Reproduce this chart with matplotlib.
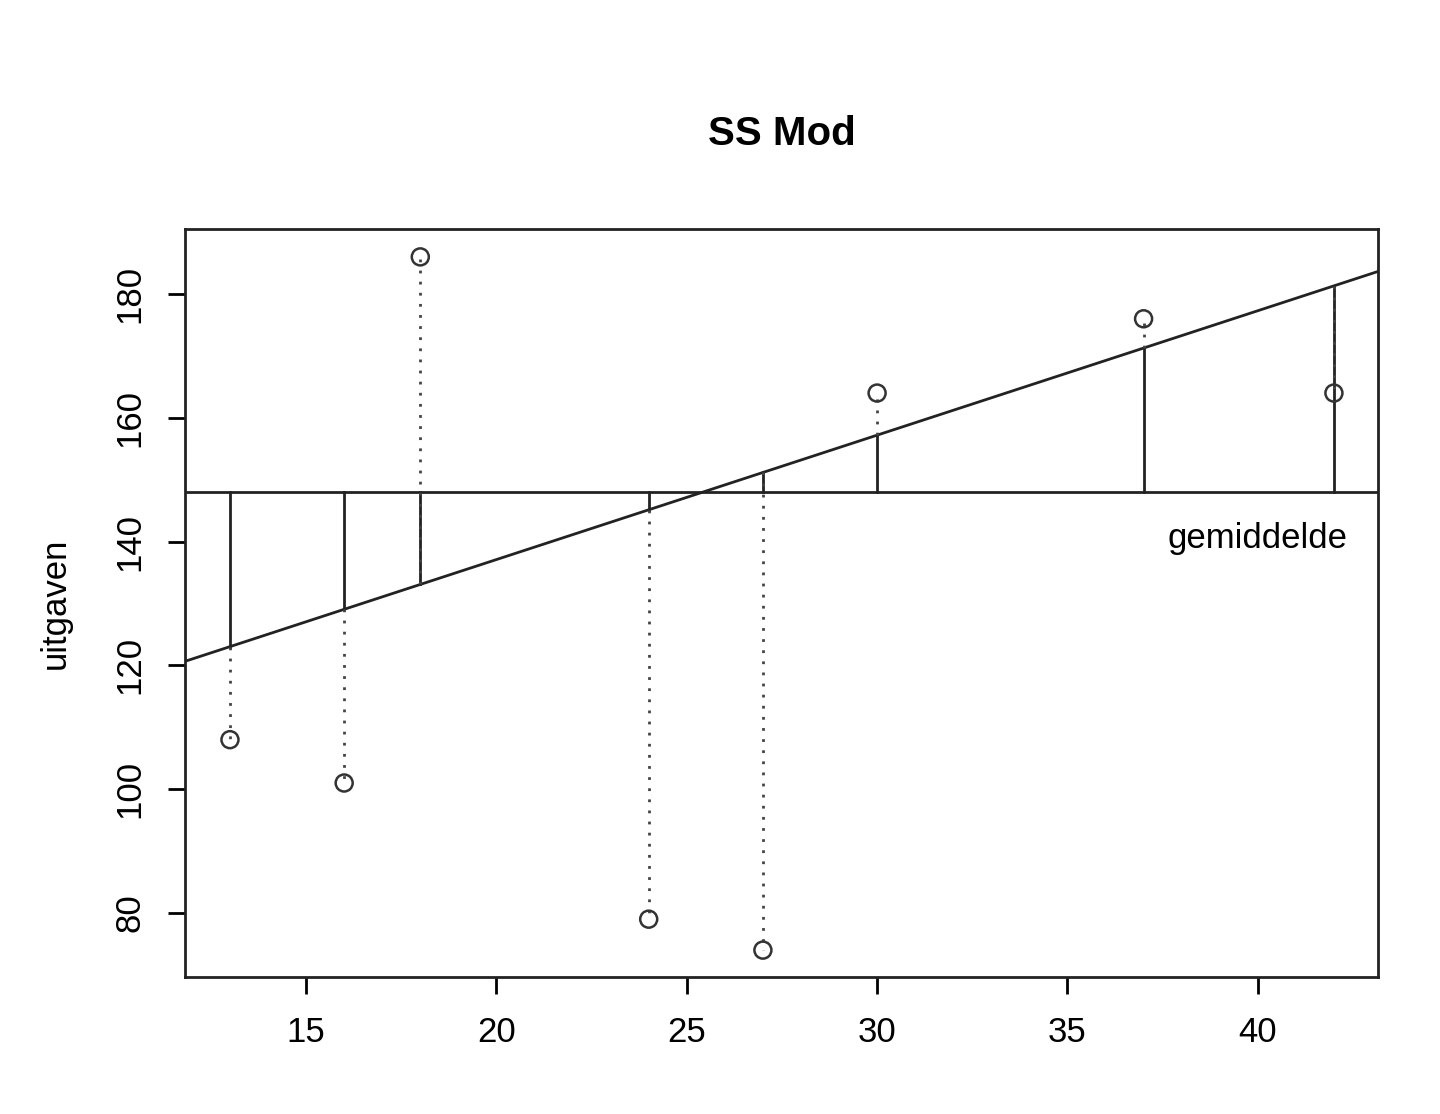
import matplotlib
matplotlib.use('Agg')
import matplotlib.pyplot as plt

plt.rcParams['font.family'] = ['Liberation Sans', 'DejaVu Sans']

# data
leeftijd = [13, 16, 18, 24, 27, 30, 37, 42]
uitgaven = [108, 101, 186, 79, 74, 164, 176, 164]
gemiddelde = 148
intercept = 96.9
slope = 2.01

xlim = (11.82, 43.16)
ylim = (69.66, 190.5)

fig = plt.figure(figsize=(14.4, 11.14), dpi=100)
ax = fig.add_axes([0.1285, 0.123, 0.8285, 0.6714])

ax.axhline(gemiddelde, color='#222222', lw=2)
ax.plot(xlim, [intercept + slope * x for x in xlim], color='#222222', lw=2)

for x, y in zip(leeftijd, uitgaven):
    fit = intercept + slope * x
    ax.plot([x, x], [gemiddelde, fit], color='#222222', lw=2)
    ax.plot([x, x], [fit, y], color='#444444', lw=2, linestyle=(0, (1, 3)))

ax.scatter(leeftijd, uitgaven, s=150, facecolors='none', edgecolors='#333333',
           linewidths=1.8, zorder=3)
ax.text(40, 140.5, 'gemiddelde', ha='center', va='center', fontsize=25)

ax.set_xlim(*xlim)
ax.set_ylim(*ylim)
ax.set_xticks([15, 20, 25, 30, 35, 40])
ax.set_yticks([80, 100, 120, 140, 160, 180])
ax.tick_params(direction='out', length=12, width=2, labelsize=25, pad=16)
for lab in ax.get_yticklabels():
    lab.set_rotation(90)
    lab.set_va('center')
for s in ax.spines.values():
    s.set_linewidth(2)
    s.set_color('#222222')
ax.set_ylabel('uitgaven', fontsize=25, labelpad=30)
fig.text(0.543, 0.88, 'SS Mod', ha='center', va='center', fontsize=29,
         fontweight='bold')

fig.savefig('out.png', dpi=100)
